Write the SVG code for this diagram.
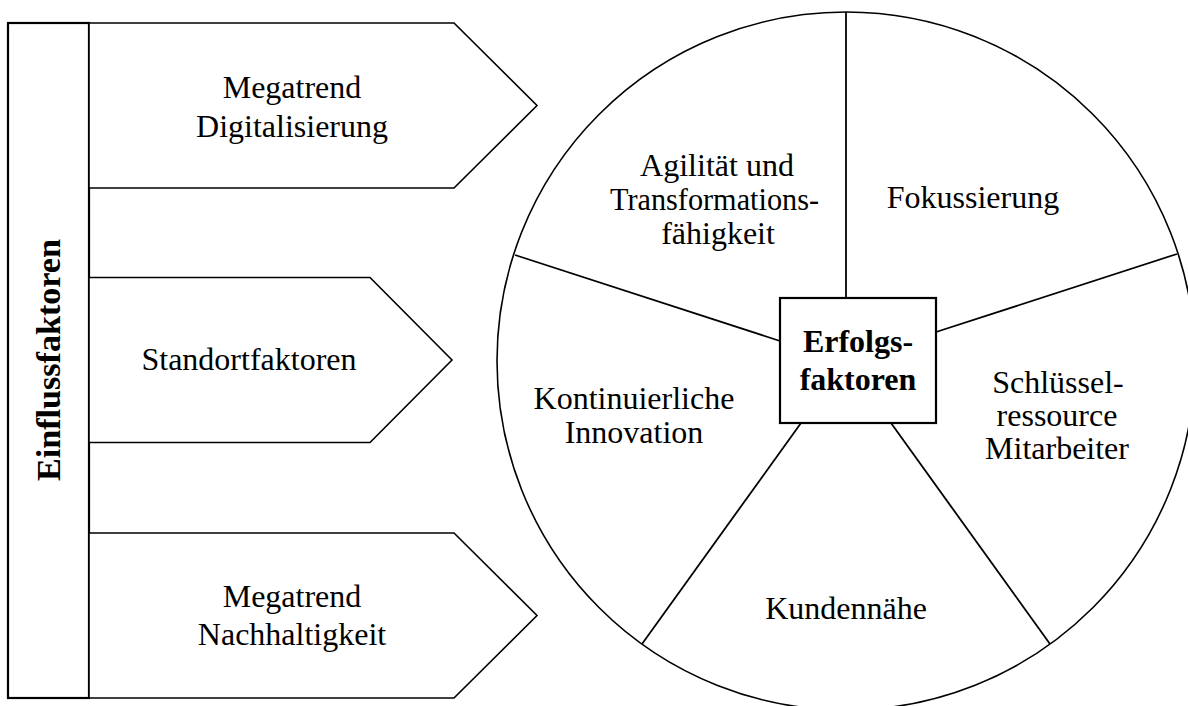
<svg xmlns="http://www.w3.org/2000/svg" width="1188" height="706" viewBox="0 0 1188 706">
  <defs>
    <style>
      .shape { fill: #fff; stroke: #000; stroke-width: 1.6; stroke-linejoin: miter; }
      .frame { fill: #fff; stroke: #000; stroke-width: 2.2; }
      .spoke { stroke: #000; stroke-width: 1.8; fill: none; }
      .lbl { font-family: "Liberation Serif", "Times New Roman", serif; font-size: 32px; fill: #000; text-anchor: middle; }
      .pie { font-family: "Liberation Serif", "Times New Roman", serif; font-size: 32px; fill: #000; text-anchor: middle; }
      .bold { font-family: "Liberation Serif", "Times New Roman", serif; font-size: 32px; font-weight: bold; fill: #000; text-anchor: middle; }
    </style>
  </defs>
  <rect width="1188" height="706" fill="#fff"/>

  <!-- influence factors column -->
  <g id="einflussfaktoren">
    <rect class="frame" x="8" y="23" width="81" height="675"/>
    <text class="bold" style="font-size:33px" transform="translate(60,360) rotate(-90)" textLength="242" lengthAdjust="spacingAndGlyphs">Einflussfaktoren</text>
  </g>

  <g id="digitalisierung">
    <polygon class="shape" points="89,23 454,23 537,105.5 454,188 89,188"/>
    <text class="lbl" x="292" y="98">Megatrend</text>
    <text class="lbl" x="292" y="137">Digitalisierung</text>
  </g>

  <g id="standortfaktoren">
    <polygon class="shape" points="89,277.5 370,277.5 452,360 370,442.5 89,442.5"/>
    <text class="lbl" x="249" y="370">Standortfaktoren</text>
  </g>

  <g id="nachhaltigkeit">
    <polygon class="shape" points="89,533 454,533 537,615.5 454,698 89,698"/>
    <text class="lbl" x="292" y="607">Megatrend</text>
    <text class="lbl" x="292" y="645">Nachhaltigkeit</text>
  </g>

  <!-- success factor wheel -->
  <g id="rad">
    <circle class="shape" cx="846" cy="361" r="349"/>
  </g>

  <g id="connectors">
    <line class="spoke" x1="846" y1="12" x2="846" y2="298"/>
    <line class="spoke" x1="515" y1="255" x2="780" y2="341"/>
    <line class="spoke" x1="1177" y1="254" x2="936" y2="332"/>
    <line class="spoke" x1="642" y1="644" x2="801" y2="423"/>
    <line class="spoke" x1="1050" y1="644" x2="891" y2="423"/>
  </g>

  <g id="agilitaet">
    <text class="pie" x="717" y="176">Agilität und</text>
    <text class="pie" x="714.5" y="210" textLength="209" lengthAdjust="spacingAndGlyphs">Transformations-</text>
    <text class="pie" x="718" y="244">fähigkeit</text>
  </g>

  <g id="fokussierung">
    <text class="pie" x="973" y="208">Fokussierung</text>
  </g>

  <g id="mitarbeiter">
    <text class="pie" x="1058" y="393">Schlüssel-</text>
    <text class="pie" x="1057" y="426">ressource</text>
    <text class="pie" x="1057" y="459">Mitarbeiter</text>
  </g>

  <g id="kundennaehe">
    <text class="pie" x="846" y="619">Kundennähe</text>
  </g>

  <g id="innovation">
    <text class="pie" x="634" y="409">Kontinuierliche</text>
    <text class="pie" x="634" y="443">Innovation</text>
  </g>

  <g id="erfolgsfaktoren">
    <rect class="frame" x="780" y="298" width="156" height="125"/>
    <text class="bold" x="858" y="352">Erfolgs-</text>
    <text class="bold" x="858" y="390">faktoren</text>
  </g>
</svg>
